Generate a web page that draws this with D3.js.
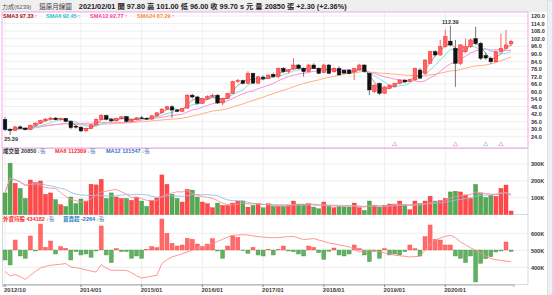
<!DOCTYPE html>
<html>
<head>
<meta charset="utf-8">
<script src="https://d3js.org/d3.v7.min.js"></script>
<style>
body { margin: 0; background: #fff; }
svg { display: block; font-family: "Liberation Sans", "Noto Sans CJK TC", sans-serif; }
</style>
</head>
<body>
<div id="chart"></div>
<script>
// Step 1: data (2012/10 .. 2021/02)
//= ================================
var months = d3.timeMonth.range(new Date(2012, 9, 1), new Date(2021, 2, 1)).map(d3.timeFormat("%Y/%m"));

var candleOpen = [37.7,29.8,29.0,31.8,30.8,29.6,33.0,34.8,36.8,38.0, 38.8,37.6,38.6,36.2,32.4,31.6,28.6,30.6,33.4,37.8,
  40.8,37.8,36.6,38.6,40.0,36.2,37.6,39.0,38.6,38.0, 40.6,43.0,46.0,47.8,45.2,44.2,46.8,57.0,55.6,50.6,
  54.4,56.0,57.0,50.8,54.4,58.4,67.8,68.6,66.4,74.4, 66.6,71.4,70.2,73.6,71.8,78.4,75.8,77.8,81.0,78.4,
  75.8,81.0,78.4,75.0,81.0,75.6,78.4,76.8,77.0,75.6, 77.2,81.0,74.4,59.8,66.4,58.6,62.6,63.8,66.4,69.0,
  68.0,69.2,77.0,74.4,82.4,91.6,89.0,95.6,100.0,94.3, 82.4,91.6,95.6,102.0,98.3,88.6,86.4,83.6,91.6,94.3, 97.8];
var candleHigh = [39.5,31.0,32.5,33.0,31.5,33.5,35.5,37.5,38.8,39.8, 39.6,39.2,39.0,36.8,33.2,32.2,31.2,34.0,38.5,42.0,
  41.5,39.0,39.2,40.5,40.6,38.2,39.6,40.6,39.4,41.2, 43.6,46.5,48.6,49.0,46.2,47.0,58.0,58.2,56.4,55.0,
  57.0,58.2,58.0,55.0,59.0,68.6,70.0,69.4,76.0,75.0, 72.4,72.6,73.6,75.0,79.0,79.4,77.8,86.4,82.0,79.0,
  82.0,82.4,79.2,82.0,81.8,79.2,80.0,77.6,77.8,78.8, 82.0,81.6,75.0,65.6,67.0,64.0,65.6,67.0,69.6,69.8,
  70.0,79.0,78.6,85.6,92.4,92.8,101.0,109.0,112.39,101.0, 97.6,102.0,102.0,111.5,99.4,91.0,87.8,92.4,106.0,108.9, 101.0];
var candleLow = [28.5,25.39,28.5,30.0,29.0,29.3,32.0,34.0,35.8,36.8, 37.0,36.8,35.5,30.0,30.4,27.6,28.0,30.2,33.0,37.2,
  37.0,35.5,36.0,37.8,35.4,35.6,37.0,38.2,37.2,37.6, 40.0,42.5,45.4,39.0,43.4,43.6,46.2,54.4,49.6,50.0,
  53.6,55.2,50.0,49.0,53.8,58.0,66.8,65.6,66.0,66.0, 66.0,68.8,69.8,71.0,70.4,75.0,74.2,77.4,77.6,71.8,
  75.2,77.8,73.8,74.6,73.6,75.0,72.4,73.8,73.8,69.0, 76.6,75.0,57.0,58.8,57.0,58.0,61.8,63.2,65.8,66.8,
  67.4,68.6,70.0,73.6,82.0,87.8,88.4,95.0,96.0,63.7, 81.0,90.6,94.6,97.0,85.0,85.2,82.0,83.0,91.0,93.6, 96.0];
var candleClose = [29.8,29.0,31.8,30.8,29.6,33.0,34.8,36.8,38.0,38.8, 37.6,38.6,36.2,31.2,31.6,28.6,30.6,33.4,37.8,40.8,
  37.8,36.6,38.6,39.8,36.2,37.6,39.0,38.6,38.0,40.6, 43.0,46.0,47.8,45.2,44.2,46.5,57.0,55.6,50.6,54.4,
  56.0,57.0,50.8,54.4,58.4,67.8,68.6,66.4,74.4,66.6, 71.6,70.2,73.0,71.8,78.4,75.8,77.2,81.0,78.4,75.8,
  81.0,78.4,74.4,81.0,74.4,78.4,73.2,74.6,74.4,78.2, 81.0,75.8,61.2,65.0,58.6,63.6,65.0,66.4,69.0,67.6,
  69.4,78.4,70.6,85.0,91.6,89.0,95.6,103.5,96.9,82.4, 97.0,95.6,101.0,98.3,86.4,86.6,83.6,91.6,94.3,97.0, 99.7];

// 成交量 (張)
var volume = [128000,305000,185000,155000,95000,205000,190000,199000,120000,128000,
  88000,58000,48000,104000,64000,92000,80000,180000,176000,209000,
  95000,128000,104000,95000,95000,84000,104000,80000,48000,84000,
  98000,235000,179000,120000,95000,74000,149000,145000,104000,74000,
  64000,40000,68000,54000,54000,68000,80000,80000,44000,54000,
  64000,40000,64000,48000,48000,48000,54000,80000,62000,62000,
  64000,44000,34000,74000,48000,40000,48000,44000,44000,68000,
  40000,24000,80000,54000,44000,54000,62000,62000,80000,54000,
  28000,80000,64000,80000,108000,80000,84000,95000,134000,138000,
  134000,114000,95000,179000,124000,100000,114000,108000,155000,175000, 20850];

// 外資買賣超 (張)
var foreignNet = [-15000,-22500,15000,-9000,-12500,21000,-1500,39000,4000,13500,
  -6000,5000,2500,-15000,-2500,-7500,-6000,-11000,-1500,36000,
  -7500,-19000,2000,-2500,-2500,-12500,-9000,-12500,1000,5000,
  3500,46500,25000,10000,6000,7500,17500,16000,9000,5000,
  9000,17000,-1500,-12500,6000,21000,19000,-1000,-5000,4000,
  -7500,-9000,1000,-7500,1000,6000,-1500,-2500,-6000,-9000,
  6000,4000,-4000,-14000,-2000,3000,-7500,-9000,-6000,7500,
  2000,-7500,-17500,-2000,-12500,2000,-7500,-6000,-7500,-2500,
  7500,2000,-9000,20000,37500,16000,15000,7500,7500,-9000,
  -12500,-19000,-9000,-48000,-20000,-13000,-10000,-3000,-1500,12000, -2264];

// 外資持股 (張)
var foreignHold = [376000,349000,357000,345000,329000,353000,375000,396000,405000,412000,
  415000,418000,422000,402000,398000,392000,385000,378000,372000,416000,
  395000,382000,383000,382000,382000,368000,350000,337000,342000,348000,
  353000,422000,445000,461000,470000,480000,490000,500000,512000,522000,
  530000,539000,552000,565000,578000,588000,590000,592000,590000,585000,
  580000,578000,575000,574000,575000,578000,580000,582000,572000,563000,
  566000,569000,560000,552000,543000,538000,532000,526000,520000,505000,
  490000,495000,500000,500000,492000,485000,478000,471000,468000,465000,
  461000,463000,465000,500000,530000,559000,572000,582000,588000,575000,
  549000,532000,515000,500000,483000,465000,451000,445000,440000,436000, 434182];

var priceTicks = [120, 114, 108, 102, 96, 90, 84, 78, 72, 66, 60, 54, 48, 42, 36, 30, 24];
var volTicks = [100000, 200000, 300000];
var holdTicks = [400000, 500000, 600000];
var yearTicks = ["2012/10", "2014/01", "2015/01", "2016/01", "2017/01", "2018/01", "2019/01", "2020/01"];
var pinkMarks = ["2019/03", "2020/03", "2020/12"];
var cyanMarks = ["2020/09"];

// Step 2: svg and scales
//= ================================
var svgWidth = 554;
var svgHeight = 295;

var svg = d3.select("#chart")
  .append("svg")
  .attr("width", svgWidth)
  .attr("height", svgHeight);

var x = d3.scaleBand().domain(months).range([2.5, 513.6]);
var cx = function(m) { return x(m) + x.bandwidth() / 2; };

var yPrice = d3.scaleLinear().domain([24, 120]).range([136.7, 16]);
var yVol = d3.scaleLinear().domain([0, 300000]).range([214.5, 164]);
var yHold = d3.scaleLinear().domain([400000, 600000]).range([267.3, 233.3]);
var yNet = d3.scaleLinear().domain([-51000, 51000]).range([284, 216]);

var candles = months.map(function(m, i) {
  return { month: m, open: candleOpen[i], high: candleHigh[i], low: candleLow[i], close: candleClose[i],
    vol: volume[i], net: foreignNet[i], hold: foreignHold[i] };
});

function sma(arr, n) {
  return arr.map(function(d, i) { return d3.mean(arr.slice(Math.max(0, i - n + 1), i + 1)); });
}

var red = "#ff4a4a";
var green = "#55a955";

// backgrounds
svg.append("rect").attr("width", svgWidth).attr("height", svgHeight).attr("fill", "#fff");
svg.append("rect").attr("width", svgWidth).attr("height", 12).attr("fill", "#efefef");
svg.append("rect").attr("x", 547.5).attr("y", 0).attr("width", 7).attr("height", svgHeight)
  .attr("fill", "#f0f0f0").attr("stroke", "#d0d0d0").attr("stroke-width", 0.6);
svg.append("line").attr("x1", 553).attr("x2", 553).attr("y1", 0).attr("y2", svgHeight)
  .attr("stroke", "#f3a6ee").attr("stroke-width", 1);

// Step 3: grid lines
//= ================================
var grid = svg.append("g").attr("stroke", "#ebebeb").attr("stroke-width", 0.8);
grid.selectAll(".hp").data(priceTicks).enter().append("line")
  .attr("x1", 2.5).attr("x2", 528).attr("y1", d => yPrice(d)).attr("y2", d => yPrice(d));
grid.selectAll(".hv").data(volTicks).enter().append("line")
  .attr("x1", 2.5).attr("x2", 528).attr("y1", d => yVol(d)).attr("y2", d => yVol(d));
grid.selectAll(".hh").data(holdTicks).enter().append("line")
  .attr("x1", 2.5).attr("x2", 528).attr("y1", d => yHold(d)).attr("y2", d => yHold(d));
grid.selectAll(".vx").data(yearTicks).enter().append("line")
  .attr("x1", d => cx(d)).attr("x2", d => cx(d)).attr("y1", 12).attr("y2", 284.5);

// panel frames
svg.append("rect").attr("x", 2.5).attr("y", 148.5).attr("width", 525.5).attr("height", 136)
  .attr("fill", "none").attr("stroke", "#cfcfcf").attr("stroke-width", 0.8);
svg.append("line").attr("x1", 2.5).attr("x2", 528).attr("y1", 214.5).attr("y2", 214.5)
  .attr("stroke", "#cfcfcf").attr("stroke-width", 0.8);

// Step 4: candles and moving averages
//= ================================
var priceGroup = svg.append("g");

var maSeries = [
  { n: 24, color: "#ffb084", width: 1 },
  { n: 12, color: "#ff8fd8", width: 1 },
  { n: 6, color: "#7fe3e3", width: 1 },
  { n: 3, color: "#7a5050", width: 0.6 }
];

maSeries.forEach(function(s) {
  var vals = sma(candleClose, s.n);
  var line = d3.line().x((d, i) => cx(months[i])).y(d => yPrice(d));
  priceGroup.append("path")
    .datum(vals)
    .attr("d", line)
    .attr("fill", "none")
    .attr("stroke", s.color)
    .attr("stroke-width", s.width);
});

priceGroup.selectAll(".wick").data(candles).enter().append("line")
  .attr("x1", d => cx(d.month)).attr("x2", d => cx(d.month))
  .attr("y1", d => yPrice(d.high)).attr("y2", d => yPrice(d.low))
  .attr("stroke", d => d.close >= d.open ? "#ff3b3b" : "#555")
  .attr("stroke-width", 0.8);

priceGroup.selectAll(".body").data(candles).enter().append("rect")
  .attr("x", d => cx(d.month) - 1.8)
  .attr("width", 3.6)
  .attr("y", d => yPrice(Math.max(d.open, d.close)))
  .attr("height", d => Math.max(0.8, Math.abs(yPrice(d.open) - yPrice(d.close))))
  .attr("fill", d => d.close >= d.open ? "#ff6464" : "#111")
  .attr("stroke", d => d.close >= d.open ? "#ff2a2a" : "#111")
  .attr("stroke-width", 0.5);

// high / low labels
var hiIdx = d3.maxIndex(candleHigh);
var loIdx = d3.minIndex(candleLow);
priceGroup.append("text")
  .attr("x", cx(months[hiIdx])).attr("y", yPrice(candleHigh[hiIdx]) - 2)
  .attr("text-anchor", "middle").attr("font-size", 5.5).attr("font-weight", "bold").attr("fill", "#333")
  .text(candleHigh[hiIdx].toFixed(2));
priceGroup.append("text")
  .attr("x", cx(months[loIdx]) + 1).attr("y", yPrice(candleLow[loIdx]) + 6.5)
  .attr("text-anchor", "middle").attr("font-size", 5.5).attr("font-weight", "bold").attr("fill", "#333")
  .text(candleLow[loIdx].toFixed(2));

// event markers
var markSym = d3.symbol().type(d3.symbolTriangle).size(9);
priceGroup.selectAll(".pm").data(pinkMarks).enter().append("path")
  .attr("d", markSym).attr("transform", d => `translate(${cx(d)},144.5)`)
  .attr("fill", "none").attr("stroke", "#f080c0").attr("stroke-width", 0.6);
priceGroup.selectAll(".cm").data(cyanMarks).enter().append("path")
  .attr("d", markSym).attr("transform", d => `translate(${cx(d)},144.5)`)
  .attr("fill", "none").attr("stroke", "#60c8e8").attr("stroke-width", 0.6);

// main panel frame
svg.append("rect").attr("x", 2).attr("y", 12).attr("width", 526).attr("height", 136)
  .attr("fill", "none").attr("stroke", "#f5a3ef").attr("stroke-width", 1);

// Step 5: volume panel
//= ================================
svg.append("g").selectAll("rect").data(candles).enter().append("rect")
  .attr("x", d => cx(d.month) - 2)
  .attr("width", 4)
  .attr("y", d => yVol(d.vol))
  .attr("height", d => yVol(0) - yVol(d.vol))
  .attr("fill", d => d.close >= d.open ? red : green)
  .attr("stroke", d => d.close >= d.open ? "#f03030" : "#3f913f")
  .attr("stroke-width", 0.4);

[{ n: 12, color: "#8fbfec" }, { n: 6, color: "#ff8c8c" }].forEach(function(s) {
  svg.append("path")
    .datum(sma(volume, s.n))
    .attr("d", d3.line().x((d, i) => cx(months[i])).y(d => yVol(d)))
    .attr("fill", "none").attr("stroke", s.color).attr("stroke-width", 0.9);
});

// Step 6: foreign investors panel
//= ================================
svg.append("g").selectAll("rect").data(candles).enter().append("rect")
  .attr("x", d => cx(d.month) - 2)
  .attr("width", 4)
  .attr("y", d => yNet(Math.max(0, d.net)))
  .attr("height", d => Math.abs(yNet(d.net) - yNet(0)))
  .attr("fill", d => d.net >= 0 ? "#ff6a6a" : "#62b062")
  .attr("stroke", d => d.net >= 0 ? "#ff4040" : "#4a9a4a")
  .attr("stroke-width", 0.4);

svg.append("path")
  .datum(foreignHold)
  .attr("d", d3.line().x((d, i) => cx(months[i])).y(d => yHold(d)))
  .attr("fill", "none").attr("stroke", "#ff8a8a").attr("stroke-width", 0.9);

// Step 7: axes
//= ================================
var rightPrice = d3.axisRight(yPrice).tickValues(priceTicks).tickFormat(d3.format(".1f")).tickSize(0).tickPadding(3);
var rightVol = d3.axisRight(yVol).tickValues(volTicks).tickFormat(d => (d / 1000) + "K").tickSize(0).tickPadding(3);
var rightHold = d3.axisRight(yHold).tickValues(holdTicks).tickFormat(d => (d / 1000) + "K").tickSize(0).tickPadding(3);

[rightPrice, rightVol, rightHold].forEach(function(ax) {
  var g = svg.append("g").attr("transform", "translate(528,0)").call(ax);
  g.select(".domain").remove();
  g.selectAll("text").attr("font-size", 5.5).attr("font-weight", "bold").attr("fill", "#333")
    .attr("font-family", "Liberation Sans");
});

var xAxis = svg.append("g")
  .attr("transform", "translate(0,284.5)")
  .call(d3.axisBottom(x).tickValues(yearTicks).tickSize(2.5));
xAxis.select(".domain").attr("stroke", "#aaa");
xAxis.selectAll(".tick line").attr("stroke", "#888");
xAxis.selectAll("text")
  .attr("text-anchor", "start").attr("x", -1).attr("y", 3.5)
  .attr("font-size", 6).attr("font-weight", "bold").attr("fill", "#444")
  .attr("font-family", "Liberation Sans");

// Step 8: title and legends
//= ================================
var title = svg.append("text").attr("x", 2).attr("y", 8.5).attr("fill", "#222");
title.append("tspan").attr("font-size", 6).attr("fill", "#555").text("力成(6239)");
title.append("tspan").attr("dx", 8).attr("font-size", 6.5).attr("fill", "#333").text("還原月線圖");
title.append("tspan").attr("dx", 7).attr("font-size", 7.3).attr("font-weight", "bold")
  .text("2021/02/01 開 97.80 高 101.00 低 96.00 收 99.70 s 元 量 20850 張 +2.30 (+2.36%)");

function legend(y, items) {
  items.forEach(function(it) {
    var t = svg.append("text").attr("x", it.x).attr("y", y)
      .attr("font-size", it.size || 5.5).attr("font-weight", "bold");
    t.append("tspan").attr("fill", it.color).text(it.label);
    t.append("tspan").attr("fill", it.arrowColor).attr("dx", 1).text(it.arrow);
    if (it.unit) t.append("tspan").attr("fill", "#6688bb").attr("font-weight", "normal").text(it.unit);
  });
}

legend(18.3, [
  { x: 3, label: "SMA3 97.33", color: "#a01010", arrow: "↑", arrowColor: "#ff2020" },
  { x: 46, label: "SMA6 92.45", color: "#20c8c8", arrow: "↑", arrowColor: "#ff2020" },
  { x: 90, label: "SMA12 92.77", color: "#ff3aa0", arrow: "↑", arrowColor: "#ff2020" },
  { x: 137, label: "SMA24 87.29", color: "#ff8a3a", arrow: "↑", arrowColor: "#ff2020" }
]);

legend(153, [
  { x: 3, label: "成交量 20850", color: "#333", arrow: "↓", arrowColor: "#10a010", unit: "張" },
  { x: 55, label: "MA6 112389", color: "#ff2a2a", arrow: "↓", arrowColor: "#10a010", unit: "張" },
  { x: 106, label: "MA12 121547", color: "#2a78c8", arrow: "↓", arrowColor: "#10a010", unit: "張" }
]);

legend(220.5, [
  { x: 3, label: "外資持股 434182", color: "#ff2a2a", arrow: "↓", arrowColor: "#10a010", unit: "張" },
  { x: 63, label: "買賣超 -2264", color: "#2a78c8", arrow: "↓", arrowColor: "#10a010", unit: "張" }
]);
</script>
</body>
</html>
